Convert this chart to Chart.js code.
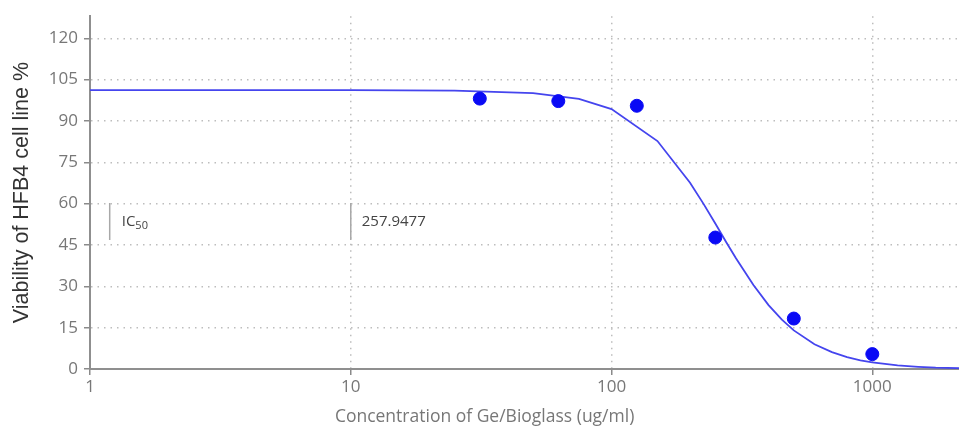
<!DOCTYPE html>
<html>
<head>
<meta charset="utf-8">
<script src="https://cdn.jsdelivr.net/npm/chart.js@4/dist/chart.umd.min.js"></script>
<style>
  html, body { margin: 0; padding: 0; background: #fff; }
  #wrap { width: 959px; height: 429px; position: relative; }
</style>
</head>
<body>
<div id="wrap"><canvas id="ic50-graph"></canvas></div>
<script>
// measured points
const concentrations = [31.25, 62.5, 125, 250, 500, 1000]
const viability = [98.1, 97.2, 95.5, 47.7, 18.3, 5.4]

// fitted curve
const curveX = [1, 10, 25, 50, 75, 100, 150, 200, 225, 250, 275, 300, 350, 400, 450, 500, 600, 700, 800, 900, 1000, 1250, 1500, 1750, 2150]
const curveY = [101.2, 101.2, 101.0, 100.1, 98.0, 94.3, 82.7, 67.6, 60.0, 52.8, 46.1, 40.2, 30.5, 23.2, 17.9, 14.0, 9.0, 6.1, 4.3, 3.1, 2.4, 1.3, 0.8, 0.5, 0.3]

const xTicks = [1, 10, 100, 1000]
const yTicks = [0, 15, 30, 45, 60, 75, 90, 105, 120]

const xTitle = 'Concentration of Ge/Bioglass (ug/ml)'
const ic50Label = 'IC'
const ic50Sub = '50'
const ic50Value = '257.9477'

// IC50 box inside the plot + x title (sits a bit left of centre in the original)
const ic50Box = {
  id: 'ic50Box',
  afterDraw(chart) {
    const {ctx, scales: {x, y}} = chart
    const y1 = y.getPixelForValue(60.2)
    const y2 = y.getPixelForValue(46.8)
    const xa = x.getPixelForValue(1.19)
    const xb = x.getPixelForValue(10)
    const ym = (y1 + y2) / 2
    ctx.save()
    ctx.strokeStyle = '#a8a8a8'
    ctx.lineWidth = 1.5
    ctx.beginPath()
    ctx.moveTo(xa, y1); ctx.lineTo(xa, y2)
    ctx.moveTo(xb, y1); ctx.lineTo(xb, y2)
    ctx.stroke()
    ctx.fillStyle = '#444'
    ctx.textBaseline = 'middle'
    ctx.font = '15px "Open Sans"'
    ctx.fillText(ic50Label, xa + 12, ym)
    const w = ctx.measureText(ic50Label).width
    ctx.font = '11px "Open Sans"'
    ctx.fillText(ic50Sub, xa + 12 + w, ym + 4)
    ctx.font = '15px "Open Sans"'
    ctx.fillText(ic50Value, xb + 11, ym)

    ctx.fillStyle = '#777'
    ctx.font = '17.5px "Open Sans"'
    ctx.textAlign = 'center'
    ctx.fillText(xTitle, x.getPixelForValue(32.6), 417)
    ctx.restore()
  }
}

const ctx = document.getElementById('ic50-graph')
const graph = new Chart(ctx, {
  type: 'scatter',
  data: {
    datasets: [{
      label: 'Viability',
      data: concentrations.map((c, i) => ({x: c, y: viability[i]})),
      backgroundColor: '#0a0af5',
      borderColor: '#0a0af5',
      pointRadius: 6.5,
      pointHoverRadius: 6.5,
      order: 1
    }, {
      label: 'Fit',
      data: curveX.map((c, i) => ({x: c, y: curveY[i]})),
      showLine: true,
      borderColor: '#4545ee',
      borderWidth: 1.8,
      pointRadius: 0,
      tension: 0,
      order: 2
    }]
  },
  options: {
    responsive: true,
    maintainAspectRatio: false,
    animation: false,
    layout: { autoPadding: false, padding: { top: 13, right: 0, left: 0, bottom: 0 } },
    plugins: {
      legend: { display: false },
      tooltip: { enabled: false }
    },
    scales: {
      x: {
        type: 'logarithmic',
        min: 1,
        max: 2150,
        afterBuildTicks: s => { s.ticks = xTicks.map(v => ({value: v})) },
        afterFit: s => { s.height = 60 },
        ticks: {
          color: '#777',
          font: { family: 'Open Sans', size: 17 },
          padding: 2,
          maxRotation: 0,
          callback: v => String(v)
        },
        grid: {
          color: c => c.tick && c.tick.value === 1 ? 'rgba(0,0,0,0)' : '#bdbdbd',
          lineWidth: 1.5,
          tickColor: '#8a8a8a',
          tickLength: 6,
          tickWidth: 1.5
        },
        border: { color: '#8f8f8f', width: 2, dash: [1.5, 5] },
        title: { display: false }
      },
      y: {
        min: 0,
        max: 128,
        afterBuildTicks: s => { s.ticks = yTicks.map(v => ({value: v})) },
        afterFit: s => { s.width = 90 },
        ticks: {
          color: '#777',
          font: { family: 'Open Sans', size: 17 },
          padding: 6
        },
        grid: {
          color: c => c.tick && c.tick.value === 0 ? 'rgba(0,0,0,0)' : '#bdbdbd',
          lineWidth: 1.5,
          tickColor: '#8a8a8a',
          tickLength: 6,
          tickWidth: 1.5
        },
        border: { color: '#8f8f8f', width: 2, dash: [1.5, 5] },
        title: {
          display: true,
          text: 'Viability of HFB4 cell line %',
          color: '#333',
          font: { family: 'Liberation Sans', size: 21.5 },
          padding: { top: 9, bottom: 0 }
        }
      }
    }
  },
  plugins: [ic50Box]
})
</script>
</body>
</html>
